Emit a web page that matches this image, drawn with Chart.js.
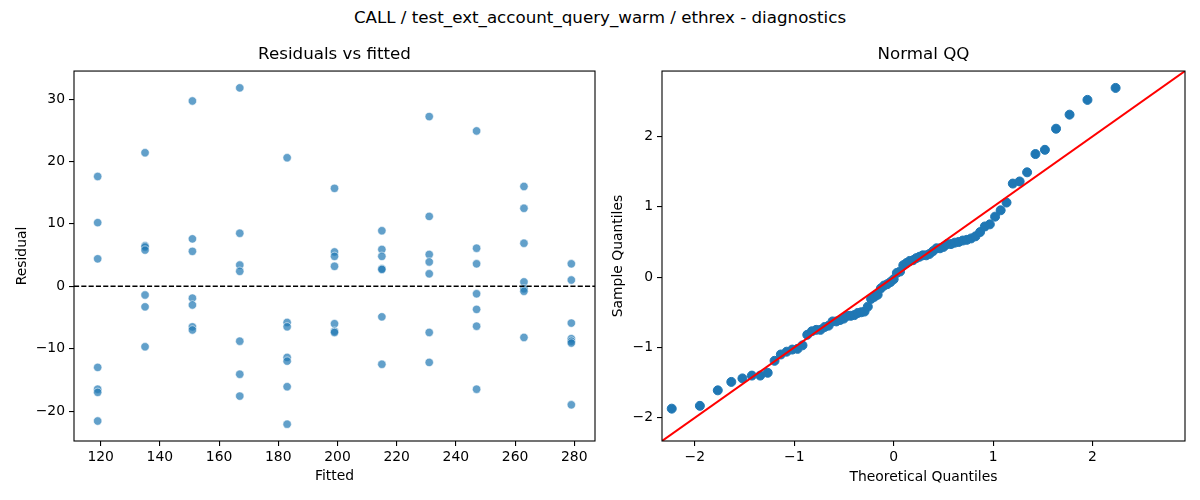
<!DOCTYPE html>
<html lang="en">
<head>
  <meta charset="UTF-8" />
  <title>CALL / test_ext_account_query_warm / ethrex - diagnostics</title>
  <script src="https://cdn.jsdelivr.net/npm/chart.js"></script>
  <style>
    body {
      margin: 0;
      background: #fff;
      font-family: 'DejaVu Sans', sans-serif;
    }

    .figure {
      position: relative;
      width: 1200px;
      height: 500px;
    }

    .suptitle {
      position: absolute;
      top: 7px;
      left: 0;
      width: 1200px;
      text-align: center;
      font-size: 16.7px;
      color: #000;
    }

    .panel {
      position: absolute;
      top: 0;
      width: 600px;
      height: 500px;
    }
  </style>
</head>
<body>
  <div class="figure">
    <div class="suptitle">CALL / test_ext_account_query_warm / ethrex - diagnostics</div>
    <div class="panel" style="left: 0;"><canvas id="resid-chart"></canvas></div>
    <div class="panel" style="left: 600px;"><canvas id="qq-chart"></canvas></div>
  </div>

  <script>
    // Residuals vs fitted: one group of residuals per fitted value
    const fittedValues = [119, 135, 151, 167, 183, 199, 215, 231, 247, 263, 279];
    const residualGroups = [
      [17.6, 10.2, 4.4, -13.0, -16.5, -17.0, -21.6],
      [21.4, 6.5, 6.3, 5.8, -1.4, -3.3, -9.7],
      [29.7, 7.6, 5.6, -1.9, -3.0, -6.5, -7.0],
      [31.8, 8.5, 3.4, 2.4, -8.8, -14.1, -17.6],
      [20.6, -5.8, -6.5, -11.4, -12.0, -16.1, -22.1],
      [15.7, 5.5, 4.8, 3.2, -6.0, -7.2, -7.4],
      [8.9, 5.9, 4.8, 2.8, 2.7, -4.9, -12.5],
      [27.2, 11.2, 5.1, 3.9, 2.0, -7.4, -12.2],
      [24.9, 6.1, 3.6, -1.2, -3.7, -6.4, -16.5],
      [16.0, 12.5, 6.9, 0.7, -0.4, -0.8, -8.2],
      [3.6, 1.0, -5.9, -8.4, -8.8, -9.1, -19.0]
    ];
    const residXTicks = [120, 140, 160, 180, 200, 220, 240, 260, 280];
    const residYTicks = [-20, -10, 0, 10, 20, 30];
    const zeroLine = 0;

    // Normal QQ
    const theoreticalQuantiles = [
      -2.232, -1.949, -1.769, -1.633, -1.521, -1.426, -1.342, -1.267, -1.198, -1.135,
      -1.076, -1.020, -0.967, -0.917, -0.869, -0.823, -0.779, -0.736, -0.695, -0.654,
      -0.615, -0.577, -0.539, -0.502, -0.466, -0.431, -0.396, -0.361, -0.327, -0.293,
      -0.260, -0.227, -0.194, -0.161, -0.129, -0.097, -0.064, -0.032, 0, 0.032,
      0.064, 0.097, 0.129, 0.161, 0.194, 0.227, 0.260, 0.293, 0.327, 0.361,
      0.396, 0.431, 0.466, 0.502, 0.539, 0.577, 0.615, 0.654, 0.695, 0.736,
      0.779, 0.823, 0.869, 0.917, 0.967, 1.020, 1.076, 1.135, 1.198, 1.267,
      1.342, 1.426, 1.521, 1.633, 1.769, 1.949, 2.232
    ];
    const sampleQuantiles = [
      -1.87, -1.83, -1.61, -1.49, -1.44, -1.40, -1.40, -1.36, -1.19, -1.10,
      -1.06, -1.03, -1.02, -0.97, -0.82, -0.77, -0.75, -0.75, -0.71, -0.69,
      -0.63, -0.63, -0.61, -0.59, -0.55, -0.55, -0.54, -0.51, -0.50, -0.49,
      -0.42, -0.31, -0.28, -0.25, -0.16, -0.12, -0.10, -0.07, -0.03, 0.06,
      0.08, 0.17, 0.20, 0.23, 0.24, 0.27, 0.29, 0.31, 0.31, 0.33,
      0.37, 0.41, 0.41, 0.43, 0.47, 0.47, 0.49, 0.50, 0.52, 0.53,
      0.55, 0.58, 0.64, 0.72, 0.75, 0.86, 0.95, 1.06, 1.33, 1.36,
      1.49, 1.75, 1.81, 2.11, 2.31, 2.52, 2.69
    ];
    const qqTicks = [-2, -1, 0, 1, 2];
    const refLineEnds = [-3, 3];

    const FONT = "'DejaVu Sans', sans-serif";
    const tickFont = { family: FONT, size: 13.9 };
    const minusSign = v => String(v).replace('-', '\u2212');

    // frame around the plotting area, like matplotlib spines
    const frameBox = {
      id: 'frameBox',
      afterDatasetsDraw(chart, args, opts) {
        const { ctx, chartArea: a } = chart;
        ctx.save();
        if (opts.zeroLine !== undefined) {
          const y = chart.scales.y.getPixelForValue(opts.zeroLine);
          ctx.strokeStyle = '#000';
          ctx.lineWidth = 1.4;
          ctx.setLineDash([5.1, 2.2]);
          ctx.beginPath();
          ctx.moveTo(a.left, y);
          ctx.lineTo(a.right, y);
          ctx.stroke();
          ctx.setLineDash([]);
        }
        ctx.strokeStyle = '#000';
        ctx.lineWidth = 1.1;
        ctx.strokeRect(a.left, a.top, a.right - a.left, a.bottom - a.top);
        ctx.restore();
      }
    };

    function axis(min, max, tickValues, label, fitSize, titlePad, isX) {
      return {
        type: 'linear',
        min: min,
        max: max,
        afterBuildTicks: s => { s.ticks = tickValues.map(v => ({ value: v })); },
        afterFit: s => {
          if (isX) s.height = fitSize; else s.width = fitSize;
          // labels never reach the frame edges, so no extra room is needed
          s.paddingLeft = 0; s.paddingRight = 0;
          s.paddingTop = 0; s.paddingBottom = 0;
        },
        grid: { display: true, drawOnChartArea: false, drawTicks: true, tickLength: 5, color: '#000', lineWidth: 1.1 },
        border: { display: false },
        ticks: { color: '#000', font: tickFont, padding: isX ? 3 : 4, autoSkip: false, maxRotation: 0, callback: minusSign },
        title: { display: true, text: label, color: '#000', font: tickFont, padding: isX ? { top: 0, bottom: titlePad } : { top: titlePad, bottom: 0 } }
      };
    }

    function titleOpts(text) {
      return {
        display: true,
        text: text,
        fullSize: false,
        color: '#000',
        font: { family: FONT, size: 16.7, weight: 'normal' },
        padding: { top: 0, bottom: 6 }
      };
    }

    // Residuals vs fitted
    const residPoints = [];
    fittedValues.forEach((f, i) => {
      residualGroups[i].forEach(r => residPoints.push({ x: f, y: r }));
    });

    new Chart(document.getElementById('resid-chart'), {
      type: 'scatter',
      data: {
        datasets: [{
          data: residPoints,
          pointRadius: 4.2,
          pointBackgroundColor: 'rgba(31, 119, 180, 0.7)',
          pointBorderColor: 'rgba(255, 255, 255, 0.7)',
          pointBorderWidth: 0.8
        }]
      },
      options: {
        responsive: true,
        maintainAspectRatio: false,
        animation: false,
        layout: { padding: { top: 45, left: 0, right: 3, bottom: 0 } },
        plugins: {
          legend: { display: false },
          tooltip: { enabled: false },
          title: titleOpts('Residuals vs fitted'),
          frameBox: { zeroLine: zeroLine }
        },
        scales: {
          x: axis(111, 287, residXTicks, 'Fitted', 59, 15, true),
          y: axis(-24.8, 34.5, residYTicks, 'Residual', 74, 14, false)
        }
      },
      plugins: [frameBox]
    });

    // Normal QQ
    const qqPoints = theoreticalQuantiles.map((t, i) => ({ x: t, y: sampleQuantiles[i] }));
    const refLine = refLineEnds.map(v => ({ x: v, y: v }));

    new Chart(document.getElementById('qq-chart'), {
      type: 'scatter',
      data: {
        datasets: [{
          type: 'line',
          data: refLine,
          borderColor: '#ff0000',
          borderWidth: 2,
          pointRadius: 0,
          order: 0
        }, {
          data: qqPoints,
          pointRadius: 4.5,
          pointBackgroundColor: '#1f77b4',
          pointBorderColor: '#1f77b4',
          pointBorderWidth: 1,
          order: 1
        }]
      },
      options: {
        responsive: true,
        maintainAspectRatio: false,
        animation: false,
        layout: { padding: { top: 45, left: 0, right: 15, bottom: 0 } },
        plugins: {
          legend: { display: false },
          tooltip: { enabled: false },
          title: titleOpts('Normal QQ'),
          frameBox: {}
        },
        scales: {
          x: axis(-2.33, 2.93, qqTicks, 'Theoretical Quantiles', 59, 14, true),
          y: axis(-2.33, 2.93, qqTicks, 'Sample Quantiles', 62, 10, false)
        }
      },
      plugins: [frameBox]
    });
  </script>
</body>
</html>
